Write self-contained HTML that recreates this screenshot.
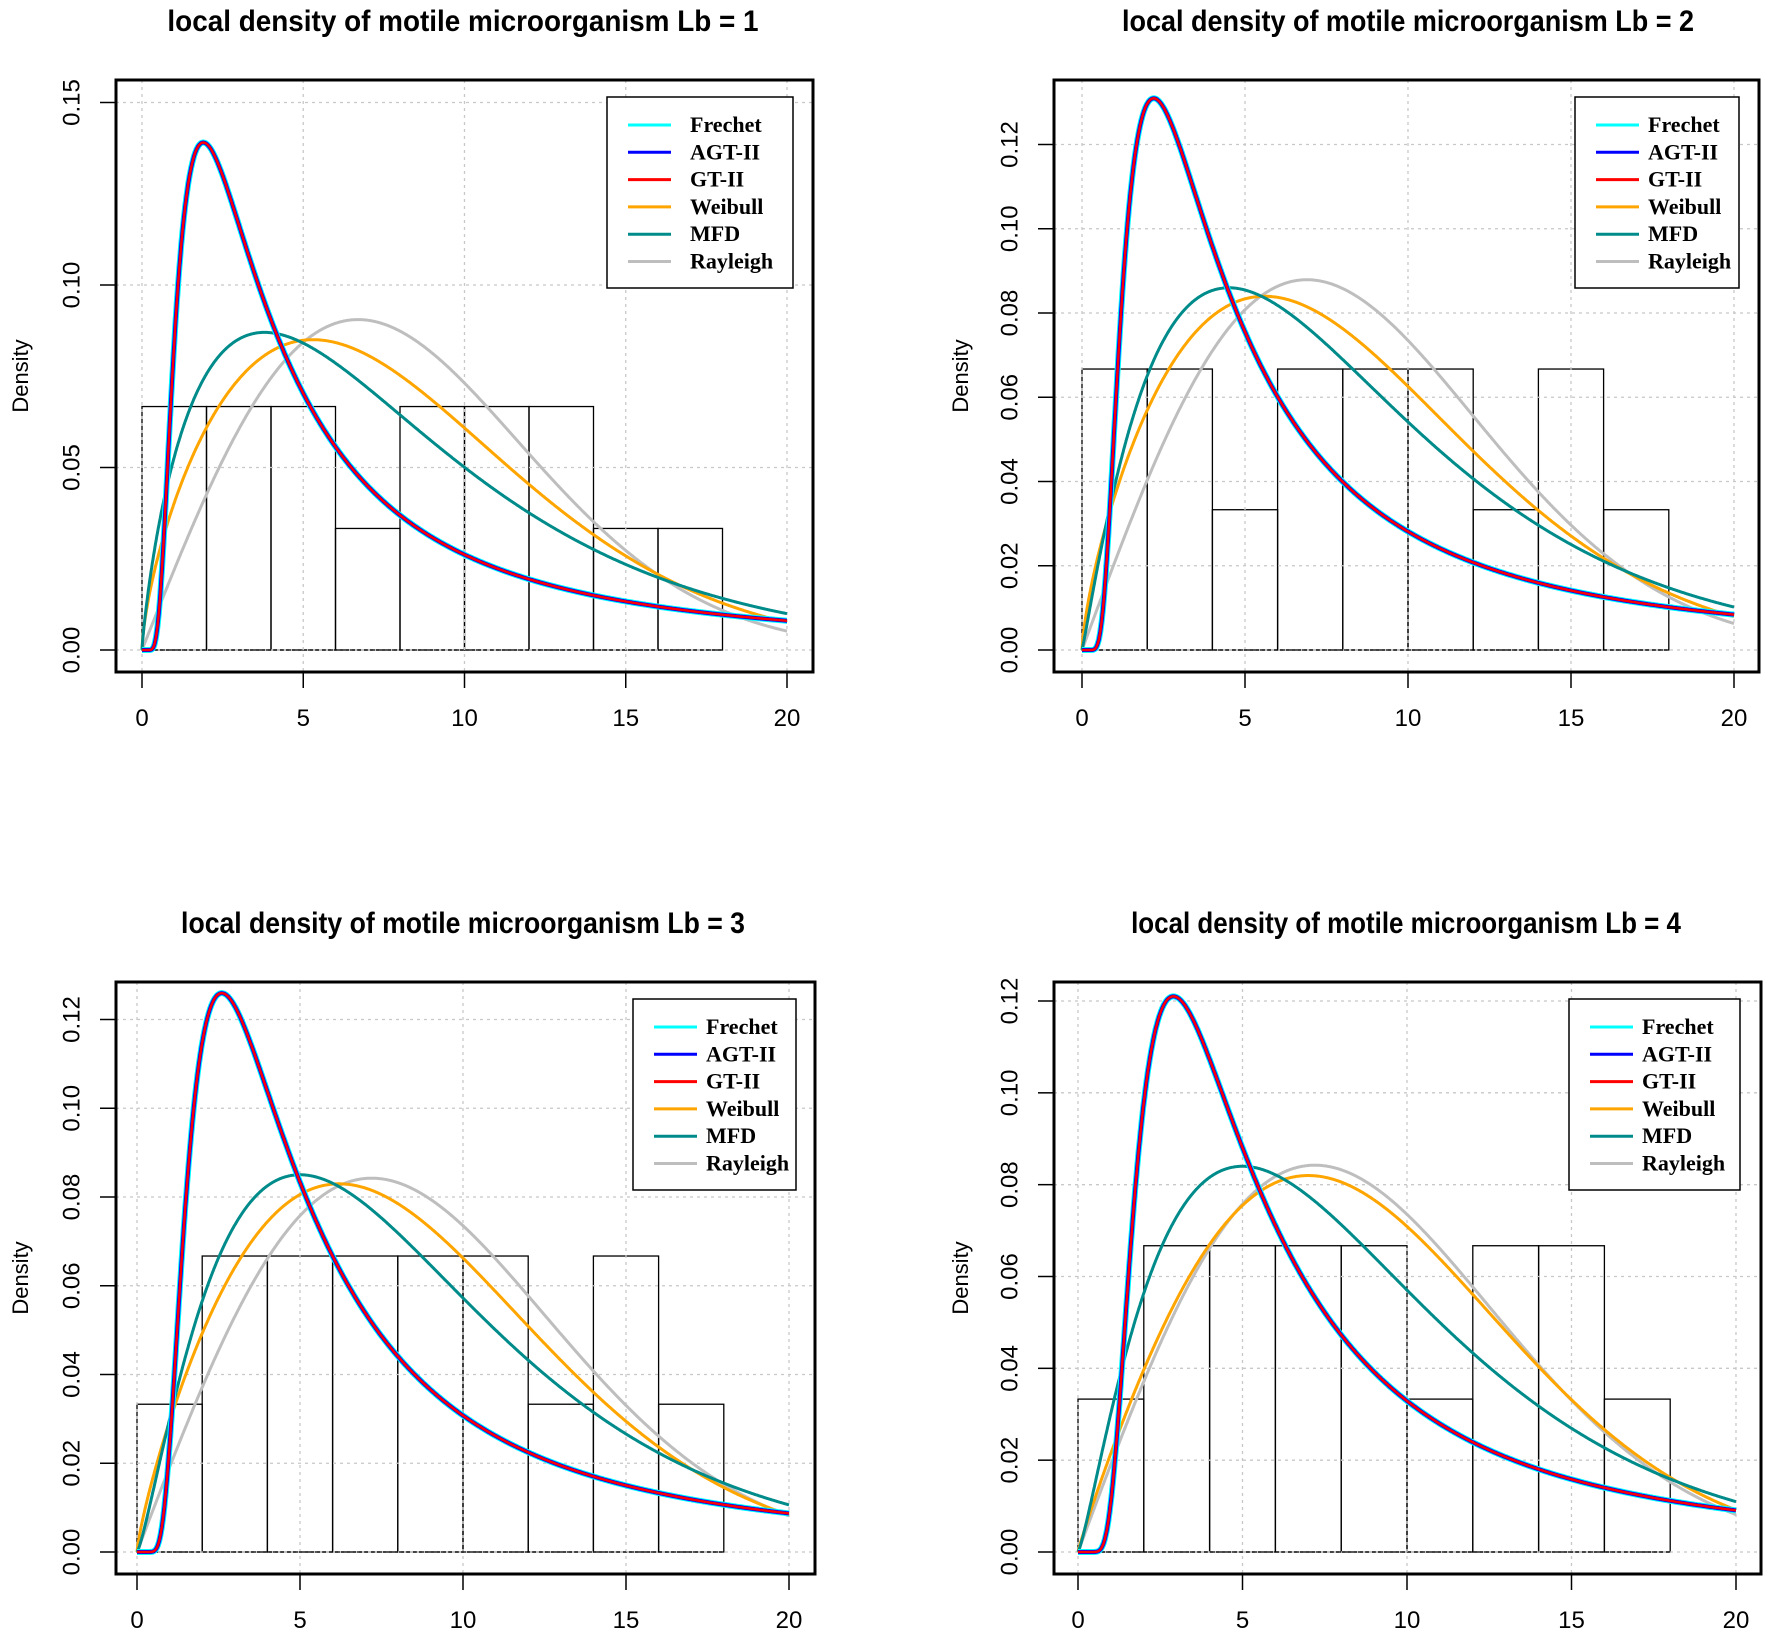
<!DOCTYPE html>
<html><head><meta charset="utf-8">
<style>
html,body{margin:0;padding:0;background:#fff;}
svg{display:block;}
</style></head>
<body>
<svg id="s" xmlns="http://www.w3.org/2000/svg" width="1770" height="1638" viewBox="0 0 1770 1638">
<rect width="1770" height="1638" fill="#fff"/>
</svg>
<script>
var NS="http://www.w3.org/2000/svg",S=document.getElementById('s');
function el(t,a,txt){var e=document.createElementNS(NS,t);for(var k in a)e.setAttribute(k,a[k]);if(txt!==undefined)e.textContent=txt;S.appendChild(e);return e;}
function lgam(z){var g=7,c=[0.99999999999980993,676.5203681218851,-1259.1392167224028,771.32342877765313,-176.61502916214059,12.507343278686905,-0.13857109526572012,9.9843695780195716e-6,1.5056327351493116e-7];
 if(z<0.5)return Math.log(Math.PI/Math.sin(Math.PI*z))-lgam(1-z);z-=1;var x=c[0];for(var i=1;i<g+2;i++)x+=c[i]/(z+i);var t=z+g+0.5;return 0.5*Math.log(2*Math.PI)+(z+0.5)*Math.log(t)-t+Math.log(x);}
function frechet(a,s){return function(x){if(x<=0)return 0;var u=x/s;return a/s*Math.pow(u,-1-a)*Math.exp(-Math.pow(u,-a));};}
function fitFrechet(m,h){var best=null,bd=1e9;for(var a=0.5;a<3;a+=0.001){var s=m/Math.pow(a/(1+a),1/a);var f=frechet(a,s);var d=Math.abs(f(m)-h);if(d<bd){bd=d;best=f;}}return best;}
function weib(k,l){return function(x){if(x<=0)return 0;return k/l*Math.pow(x/l,k-1)*Math.exp(-Math.pow(x/l,k));};}
function fitWeib(m,h){var best=null,bd=1e9;for(var k=1.05;k<4;k+=0.001){var l=m/Math.pow((k-1)/k,1/k);var f=weib(k,l);var d=Math.abs(f(m)-h);if(d<bd){bd=d;best=f;}}return best;}
function gam(k,t){var lg=lgam(k);return function(x){if(x<=0)return 0;return Math.exp((k-1)*Math.log(x)-x/t-lg-k*Math.log(t));};}
function fitGam(m,h){var best=null,bd=1e9;for(var k=1.05;k<5;k+=0.001){var t=m/(k-1);var f=gam(k,t);var d=Math.abs(f(m)-h);if(d<bd){bd=d;best=f;}}return best;}
function ray(s){return function(x){if(x<=0)return 0;return x/(s*s)*Math.exp(-x*x/(2*s*s));};}

var P=[
 {bx:116,by:80,bw:697,bh:592,x0:142,x20:787,y0:650,ytop:0.15,ypt:102.5,ticks:[0,0.05,0.10,0.15],tl:["0.00","0.05","0.10","0.15"],title:"local density of motile microorganism Lb = 1",tx:463,ty:30,dx:22,sc:0.93,
  hist:[.0667,.0667,.0667,.0333,.0667,.0667,.0667,.0333,.0333],fr:[1.9,0.139],wb:[5.3,0.085],gm:[3.8,0.087],ry:6.7,lg:[607,97,186,191],to:83},
 {bx:1054,by:80,bw:705,bh:592,x0:1082,x20:1734,y0:650,ytop:0.12,ypt:144.5,ticks:[0,.02,.04,.06,.08,.10,.12],tl:["0.00","0.02","0.04","0.06","0.08","0.10","0.12"],title:"local density of motile microorganism Lb = 2",tx:1408,ty:30,dx:962,sc:0.90,
  hist:[.0667,.0667,.0333,.0667,.0667,.0667,.0333,.0667,.0333],fr:[2.2,0.131],wb:[5.6,0.084],gm:[4.5,0.086],ry:6.9,lg:[1575,97,164,191],to:73},
 {bx:116,by:982,bw:699,bh:592,x0:137,x20:789,y0:1552,ytop:0.12,ypt:1019.5,ticks:[0,.02,.04,.06,.08,.10,.12],tl:["0.00","0.02","0.04","0.06","0.08","0.10","0.12"],title:"local density of motile microorganism Lb = 3",tx:463,ty:932,dx:22,sc:0.887,
  hist:[.0333,.0667,.0667,.0667,.0667,.0667,.0333,.0667,.0333],fr:[2.6,0.126],wb:[6.2,0.083],gm:[5.0,0.085],ry:7.2,lg:[633,999,163,191],to:73},
 {bx:1054,by:982,bw:707,bh:592,x0:1078,x20:1736,y0:1552,ytop:0.12,ypt:1001,ticks:[0,.02,.04,.06,.08,.10,.12],tl:["0.00","0.02","0.04","0.06","0.08","0.10","0.12"],title:"local density of motile microorganism Lb = 4",tx:1406,ty:932,dx:962,sc:0.865,
  hist:[.0333,.0667,.0667,.0667,.0667,.0333,.0667,.0667,.0333],fr:[2.9,0.121],wb:[7.0,0.082],gm:[5.0,0.084],ry:7.2,lg:[1569,999,171,191],to:73}
];
P.forEach(function(p){
 var X=function(v){return p.x0+(p.x20-p.x0)*v/20;};
 var Y=function(v){return p.y0-(p.y0-p.ypt)*v/p.ytop;};
 el('text',{x:0,y:0,transform:'translate('+p.tx+','+(p.ty+1)+') scale('+p.sc+',1)','text-anchor':'middle','font-family':'Liberation Sans, sans-serif','font-weight':'bold','font-size':'30'},p.title);
 el('text',{x:0,y:0,transform:'translate('+p.dx+','+(p.by+296)+') rotate(-90)','text-anchor':'middle','dominant-baseline':'middle','font-family':'Liberation Sans, sans-serif','font-size':'22'},"Density");
 for(var i=0;i<9;i++){el('rect',{x:X(2*i),y:Y(p.hist[i]),width:X(2)-X(0),height:p.y0-Y(p.hist[i]),fill:'none',stroke:'#000','stroke-width':1.3});}
 [0,5,10,15,20].forEach(function(v){el('line',{x1:X(v),x2:X(v),y1:p.by,y2:p.by+p.bh,stroke:'#c8c8c8','stroke-width':1.3,'stroke-dasharray':'3,4'});});
 p.ticks.forEach(function(v){el('line',{x1:p.bx,x2:p.bx+p.bw,y1:Y(v),y2:Y(v),stroke:'#c8c8c8','stroke-width':1.3,'stroke-dasharray':'3,4'});});
 el('line',{x1:X(0),x2:X(18),y1:p.y0,y2:p.y0,stroke:'#000','stroke-width':1.3,'stroke-dasharray':'3,3'});
 function path(f,col,w){var d='';for(var x=0;x<=20.0001;x+=0.02){d+=(d?'L':'M')+X(x).toFixed(1)+','+Y(f(x)).toFixed(1);}el('path',{d:d,fill:'none',stroke:col,'stroke-width':w,'stroke-linejoin':'round'});}
 var fr=fitFrechet(p.fr[0],p.fr[1]);
 path(ray(p.ry),'#bebebe',3);
 path(fitWeib(p.wb[0],p.wb[1]),'#ffa500',3);
 path(fitGam(p.gm[0],p.gm[1]),'#008b8b',3);
 path(fr,'#00ffff',6);path(fr,'#0000ff',4);path(fr,'#ff0000',2.5);
 el('rect',{x:p.bx,y:p.by,width:p.bw,height:p.bh,fill:'none',stroke:'#000','stroke-width':3});
 [0,5,10,15,20].forEach(function(v){el('line',{x1:X(v),x2:X(v),y1:p.by+p.bh,y2:p.by+p.bh+16,stroke:'#000','stroke-width':1.5});
  el('text',{x:X(v),y:p.by+p.bh+54,'text-anchor':'middle','font-family':'Liberation Sans, sans-serif','font-size':'24'},String(v));});
 p.ticks.forEach(function(v,i){el('line',{x1:p.bx-16,x2:p.bx,y1:Y(v),y2:Y(v),stroke:'#000','stroke-width':1.5});
  el('text',{x:0,y:0,transform:'translate('+(p.bx-43)+','+Y(v)+') rotate(-90)','text-anchor':'middle','dominant-baseline':'middle','font-family':'Liberation Sans, sans-serif','font-size':'24'},p.tl[i]);});
 var L=p.lg;el('rect',{x:L[0],y:L[1],width:L[2],height:L[3],fill:'#fff',stroke:'#000','stroke-width':1.5});
 var items=[["Frechet","#00ffff"],["AGT-II","#0000ff"],["GT-II","#ff0000"],["Weibull","#ffa500"],["MFD","#008b8b"],["Rayleigh","#bebebe"]];
 items.forEach(function(it,j){var yy=L[1]+28+j*27.3;el('line',{x1:L[0]+21,x2:L[0]+64,y1:yy,y2:yy,stroke:it[1],'stroke-width':3});
  el('text',{x:L[0]+p.to,y:yy+7,'font-family':'Liberation Serif, serif','font-weight':'bold','font-size':'22'},it[0]);});
});
</script>
</body></html>
